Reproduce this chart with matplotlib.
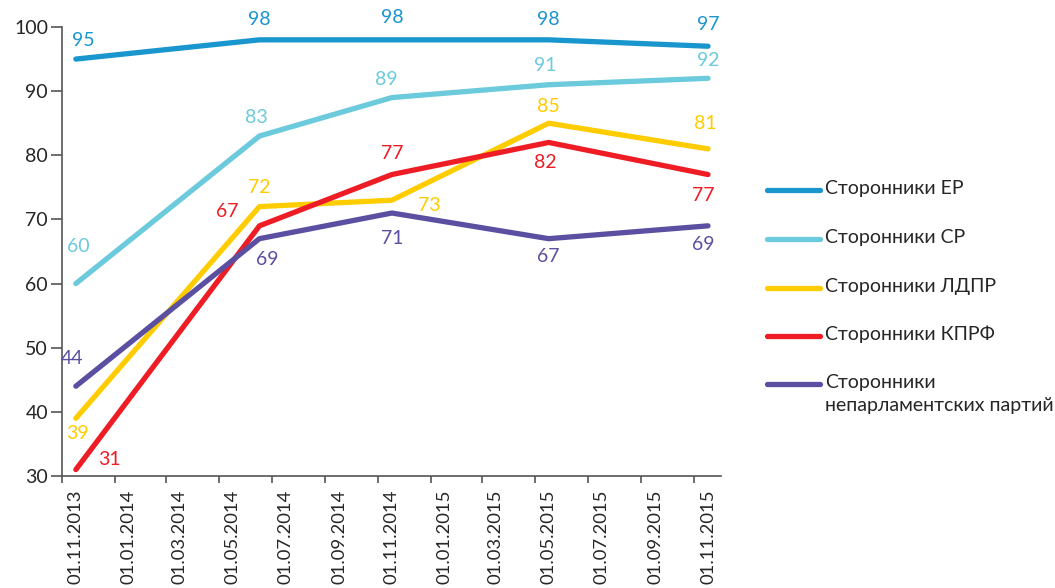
import matplotlib
matplotlib.use("Agg")
import matplotlib.pyplot as plt
import matplotlib.dates as mdates
from matplotlib.lines import Line2D
from datetime import datetime, timedelta

plt.rcParams['font.family'] = ['Lato', 'DejaVu Sans']

# ---- data ----
dates = ["01.11.2013", "01.06.2014", "01.11.2014", "01.05.2015", "01.11.2015"]
tick_dates = ["01.11.2013", "01.01.2014", "01.03.2014", "01.05.2014", "01.07.2014",
              "01.09.2014", "01.11.2014", "01.01.2015", "01.03.2015", "01.05.2015",
              "01.07.2015", "01.09.2015", "01.11.2015"]
series_names = ["Сторонники ЕР", "Сторонники СР", "Сторонники ЛДПР",
                "Сторонники КПРФ", "Сторонники\nнепарламентских партий"]
er = [95, 98, 98, 98, 97]
sr = [60, 83, 89, 91, 92]
ldpr = [39, 72, 73, 85, 81]
kprf = [31, 69, 77, 82, 77]
nonparl = [44, 67, 71, 67, 69]
# data labels as printed on the chart
er_labels = ["95", "98", "98", "98", "97"]
sr_labels = ["60", "83", "89", "91", "92"]
ldpr_labels = ["39", "72", "73", "85", "81"]
kprf_labels = ["31", "67", "77", "82", "77"]
nonparl_labels = ["44", "69", "71", "67", "69"]

colors = ["#1996CE", "#6BCADB", "#FFCC00", "#EE1C25", "#5A4FA0"]
# label offsets in pixels (dx, dy)
offsets = [
    [(7, 19), (0, 20), (0, 22), (0, 20), (0, 22)],
    [(2, 37), (-3, 19), (-6, 18), (-3, 19), (0, 18)],
    [(2, -15), (0, 19), (37, -5), (0, 17), (-3, 25)],
    [(34, 10), (-32, 14), (0, 21), (-3, -20), (-5, -21)],
    [(-4, 28), (8, -21), (0, -25), (0, -18), (-5, -19)],
]

def d(s):
    return datetime.strptime(s, "%d.%m.%Y")

xd = [d(s) for s in dates]
xt = [d(s) for s in tick_dates]

W, H = 1055, 588
fig = plt.figure(figsize=(W / 100, H / 100), dpi=100)
ax = fig.add_axes([62 / W, 1 - 476 / H, (721 - 62) / W, (476 - 27) / H])

all_series = [er, sr, ldpr, kprf, nonparl]
all_labels = [er_labels, sr_labels, ldpr_labels, kprf_labels, nonparl_labels]
FS = 14
TXT = "#262626"
for vals, labs, col, offs in zip(all_series, all_labels, colors, offsets):
    ax.plot(xd, vals, color=col, lw=3.8, solid_capstyle='round',
            solid_joinstyle='round', clip_on=False)
    for x, y, t, (dx, dy) in zip(xd, vals, labs, offs):
        ax.annotate(t, (x, y), xytext=(dx, dy), textcoords='offset pixels',
                    ha='center', va='center', color=col, fontsize=FS)

ax.set_ylim(30, 100)
ax.set_yticks(range(30, 101, 10))
shift = timedelta(days=16)
ax.set_xlim(mdates.date2num(xt[0] - shift), mdates.date2num(xt[-1] + timedelta(days=15)))
ax.set_xticks(xt)
ax.set_xticklabels(tick_dates, rotation=90, fontsize=13.3, color=TXT)
ax.set_xticks([t - shift for t in xt], minor=True)
ax.tick_params(axis='x', which='major', length=0, pad=10)
ax.tick_params(axis='x', which='minor', length=5, width=1.2, color="#555555", direction='out')
ax.tick_params(axis='y', length=8, width=1.2, color="#555555", labelsize=FS,
               labelcolor=TXT, pad=2)
for s in ['top', 'right']:
    ax.spines[s].set_visible(False)
for s in ['left', 'bottom']:
    ax.spines[s].set_color("#555555")
    ax.spines[s].set_linewidth(1.2)

# legend (manual layout)
rows_y = [190, 239, 288, 336, 384]
for name, col, yy in zip(series_names, colors, rows_y):
    fig.add_artist(Line2D([767 / W, 820 / W], [1 - yy / H, 1 - yy / H],
                          color=col, lw=3.8, solid_capstyle='round'))
    fig.text(825 / W, 1 - (yy - 10) / H, name, ha='left', va='top',
             fontsize=FS, color=TXT, linespacing=1.45)

fig.savefig("out.png", dpi=100)
